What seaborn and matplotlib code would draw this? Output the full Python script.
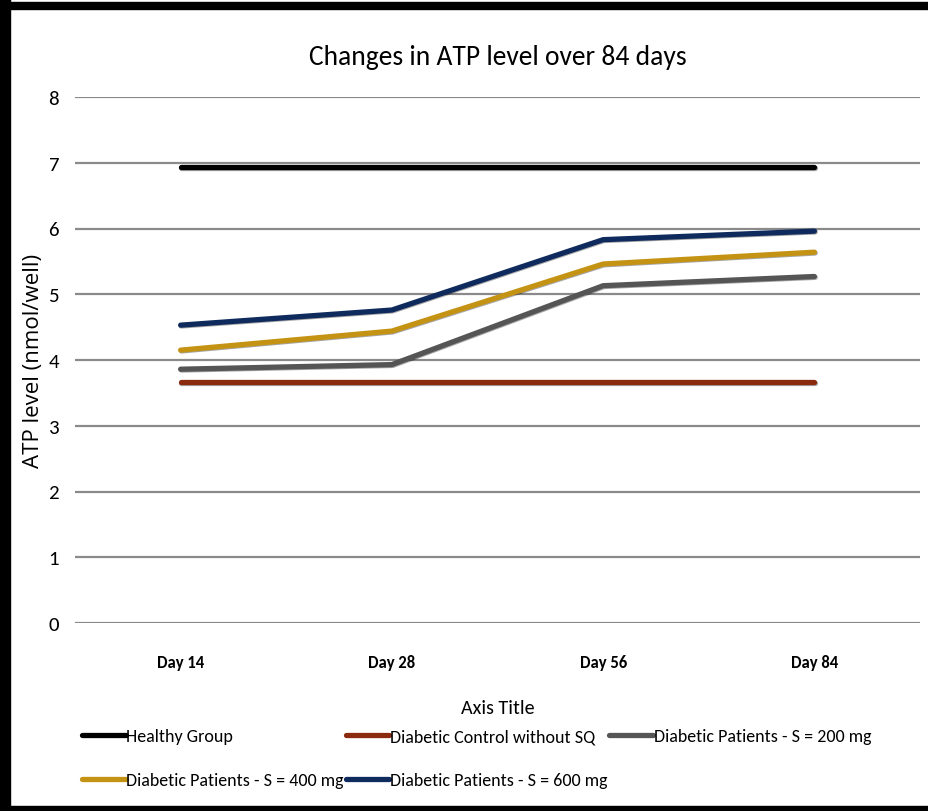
import numpy as np
import matplotlib
matplotlib.use("Agg")
import matplotlib.pyplot as plt
import matplotlib.patheffects as pe
from matplotlib.patches import Rectangle
import pandas as pd
import seaborn as sns

sns.set_style("white")
plt.rcParams['font.family'] = ['Carlito', 'DejaVu Sans']
plt.rcParams['text.color'] = 'black'
plt.rcParams['xtick.color'] = 'black'
plt.rcParams['ytick.color'] = 'black'
plt.rcParams['axes.labelcolor'] = 'black'

days = ["Day 14", "Day 28", "Day 56", "Day 84"]
groups = ["Healthy Group", "Diabetic Control without SQ",
          "Diabetic Patients - S = 200 mg", "Diabetic Patients - S = 400 mg",
          "Diabetic Patients - S = 600 mg"]
healthy = [6.93, 6.93, 6.93, 6.93]
control = [3.67, 3.67, 3.67, 3.67]
s200 = [3.86, 3.93, 5.13, 5.27]
s400 = [4.15, 4.44, 5.46, 5.64]
s600 = [4.53, 4.76, 5.83, 5.96]
colors = ["#000000", "#8B2A0E", "#555555", "#C49314", "#0F2A5C"]

rows = []
for g, vals in zip(groups, [healthy, control, s200, s400, s600]):
    for d, v in zip(days, vals):
        rows.append({"day": d, "group": g, "atp": v})
df = pd.DataFrame(rows)

fig = plt.figure(figsize=(9.29, 8.12), dpi=100)
ax = fig.add_axes([75/929, (812-624)/812, (920-75)/929, (624-98)/812])

sns.lineplot(data=df, x="day", y="atp", hue="group", palette=colors,
             hue_order=groups, sort=False, linewidth=3.8, ax=ax, legend=False,
             solid_capstyle="round")
for ln in ax.get_lines():
    ln.set_path_effects([pe.SimpleLineShadow(offset=(0.6, -0.6), alpha=0.35), pe.Normal()])

ax.set_ylim(0, 8)
ax.set_xlim(-0.5, 3.5)
ax.set_yticks(range(0, 9))
ax.yaxis.grid(True, color="#8a8a8a", linewidth=1.6)
ax.set_axisbelow(True)
for s in ax.spines.values():
    s.set_visible(False)
ax.tick_params(axis="y", length=0, pad=11.5, labelsize=15)
ax.tick_params(axis="x", length=0, pad=22, labelsize=12)
for t in ax.get_xticklabels():
    t.set_fontweight("bold")

ax.set_title("Changes in ATP level over 84 days", fontsize=19.8, pad=24)
ax.set_xlabel("Axis Title", fontsize=14.5, labelpad=21)
ax.set_ylabel("ATP level (nmol/well)", fontsize=16, labelpad=3,
              family=['Open Sans', 'DejaVu Sans'])

handles = [plt.Line2D([], [], color=c, linewidth=3.8, solid_capstyle="round")
           for c in colors]
order = [0, 3, 1, 4, 2]
fig.legend([handles[i] for i in order], [groups[i] for i in order],
           ncol=3, loc="upper left", bbox_to_anchor=(75/929, (812-722)/812),
           frameon=False, fontsize=13, handlelength=2.4, handletextpad=0.05,
           columnspacing=0.1, labelspacing=1.55, borderaxespad=0)

# outer frame like the screenshot
fig.patches.append(Rectangle((0, 0), 10/929, 1, transform=fig.transFigure,
                             color="black", zorder=5))
fig.patches.append(Rectangle((0, (812-10)/812), 1, 7/812, transform=fig.transFigure,
                             color="black", zorder=5))
fig.patches.append(Rectangle((0, 0), 1, 5/812, transform=fig.transFigure,
                             color="black", zorder=5))

fig.savefig("out.png", dpi=100)
